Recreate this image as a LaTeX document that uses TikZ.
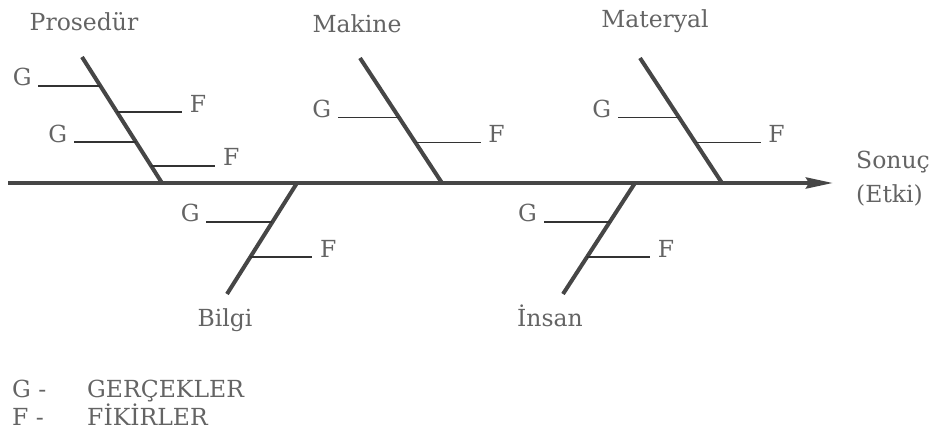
\documentclass[tikz,border=0pt]{standalone}
\usepackage{fontspec}
\setmainfont{DejaVu Serif}
\usetikzlibrary{arrows.meta, positioning, calc}
\definecolor{inkgray}{RGB}{100,100,100}
\definecolor{bonegray}{RGB}{70,70,70}
\begin{document}
\begin{tikzpicture}[
    x=1pt, y=-1pt,
    every node/.style={font=\fontsize{23.5}{34}\selectfont, text=inkgray, inner sep=0pt},
    spine/.style={line width=4pt, draw=bonegray, -{Stealth[length=27pt, width=11pt, inset=3pt]}},
    bone/.style={line width=4pt, draw=bonegray},
    twig/.style={line width=1.6pt, draw=black!80},
    tag/.style={anchor=base},
    gtag/.style={anchor=base east, xshift=-6pt},
    ftag/.style={anchor=base west, xshift=7pt}
]
\useasboundingbox (0,0) rectangle (931,441);

% spine
\coordinate (tail) at (8,183);
\coordinate (head) at (833,183);
\draw[spine] (tail) -- (head);
\node[anchor=base west, align=left] (result) at (856,202) {Sonuç\\(Etki)};

% Prosedür
\coordinate (p-top) at (82,57);
\coordinate (p-foot) at (162,183);
\draw[bone] (p-foot) -- (p-top);
\node[tag] (p-name) at (84,31) {Prosedür};
\coordinate (p-g1) at ($(p-top)!0.23!(p-foot)$);
\coordinate (p-f1) at ($(p-top)!0.437!(p-foot)$);
\coordinate (p-g2) at ($(p-top)!0.675!(p-foot)$);
\coordinate (p-f2) at ($(p-top)!0.865!(p-foot)$);
\draw[twig] (p-g1) -- ++(-62,0) node[gtag] (p-g1-tag) {G};
\draw[twig] (p-f1) -- ++(65,0) node[ftag] (p-f1-tag) {F};
\draw[twig] (p-g2) -- ++(-62,0) node[gtag] (p-g2-tag) {G};
\draw[twig] (p-f2) -- ++(64,0) node[ftag] (p-f2-tag) {F};

% Makine
\coordinate (m-top) at (360,58);
\coordinate (m-foot) at (442,183);
\draw[bone] (m-foot) -- (m-top);
\node[tag] (m-name) at (357,33) {Makine};
\coordinate (m-g) at ($(m-top)!0.476!(m-foot)$);
\coordinate (m-f) at ($(m-top)!0.677!(m-foot)$);
\draw[twig] (m-g) -- ++(-61,0) node[gtag] (m-g-tag) {G};
\draw[twig] (m-f) -- ++(65,0) node[ftag] (m-f-tag) {F};

% Materyal
\coordinate (t-top) at (640,58);
\coordinate (t-foot) at (722,183);
\draw[bone] (t-foot) -- (t-top);
\node[tag] (t-name) at (655,28) {Materyal};
\coordinate (t-g) at ($(t-top)!0.476!(t-foot)$);
\coordinate (t-f) at ($(t-top)!0.677!(t-foot)$);
\draw[twig] (t-g) -- ++(-61,0) node[gtag] (t-g-tag) {G};
\draw[twig] (t-f) -- ++(65,0) node[ftag] (t-f-tag) {F};

% Bilgi
\coordinate (b-top) at (297,183);
\coordinate (b-foot) at (227,294);
\draw[bone] (b-top) -- (b-foot);
\node[tag] (b-name) at (225,326) {Bilgi};
\coordinate (b-g) at ($(b-top)!0.351!(b-foot)$);
\coordinate (b-f) at ($(b-top)!0.667!(b-foot)$);
\draw[twig] (b-g) -- ++(-66,0) node[gtag] (b-g-tag) {G};
\draw[twig] (b-f) -- ++(62,0) node[ftag] (b-f-tag) {F};

% İnsan
\coordinate (i-top) at (635,183);
\coordinate (i-foot) at (563,294);
\draw[bone] (i-top) -- (i-foot);
\node[tag] (i-name) at (550,326) {İnsan};
\coordinate (i-g) at ($(i-top)!0.351!(i-foot)$);
\coordinate (i-f) at ($(i-top)!0.667!(i-foot)$);
\draw[twig] (i-g) -- ++(-66,0) node[gtag] (i-g-tag) {G};
\draw[twig] (i-f) -- ++(63,0) node[ftag] (i-f-tag) {F};

% key
\node[anchor=base west] (key-g) at (12,397) {G -};
\node[anchor=base west] (key-g-text) at (87,397) {GERÇEKLER};
\node[anchor=base west] (key-f) at (12,425) {F -};
\node[anchor=base west] (key-f-text) at (87,425) {FİKİRLER};
\end{tikzpicture}
\end{document}
